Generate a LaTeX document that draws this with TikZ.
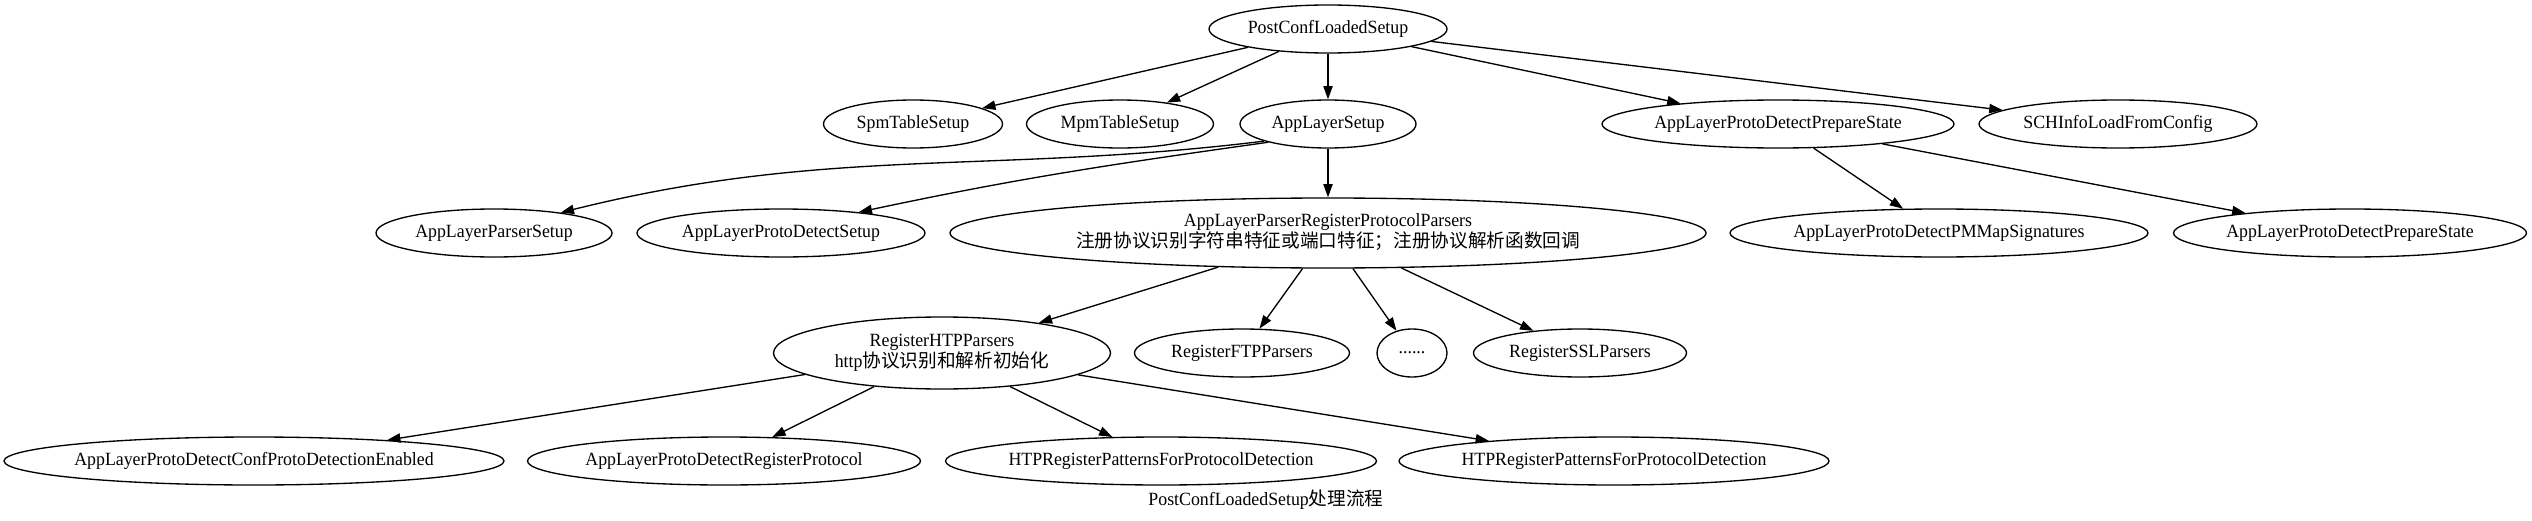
\documentclass[tikz,border=0pt]{standalone}
\usepackage{fontspec}
\setmainfont[FakeStretch=0.955]{Liberation Serif}
\newfontfamily\cjk{Noto Sans CJK SC}
\usetikzlibrary{shapes.geometric,arrows.meta}
\newcommand\gvn[6]{\node[gv,minimum width={#4*0.75pt},minimum height={#5*0.75pt}] (#1) at (#2,#3) {\makebox[0pt]{#6}};}
\newcommand\twol[2]{\begin{tabular}{@{}c@{}}#1\\#2\end{tabular}}
\begin{document}
\begin{tikzpicture}[x=0.75pt,y=-0.75pt,
  gv/.style={draw,ellipse,line width=1pt,inner sep=0pt,font=\fontsize{14}{14.5}\selectfont},
  ed/.style={line width=1pt,-{Triangle[length=10pt,width=7pt]}},
  lbl/.style={inner sep=0pt,font=\fontsize{14}{14.5}\selectfont}]
\useasboundingbox (0,0) rectangle (2532,521);
\gvn{post}{1328}{29}{238}{48}{PostConfLoadedSetup}
\gvn{spm}{913}{124}{179}{48}{SpmTableSetup}
\gvn{mpm}{1120}{124}{187}{48}{MpmTableSetup}
\gvn{als}{1328}{124}{176}{48}{AppLayerSetup}
\gvn{apdps}{1778}{124}{352}{48}{AppLayerProtoDetectPrepareState}
\gvn{sch}{2118}{124}{278}{48}{SCHInfoLoadFromConfig}
\gvn{aps}{494}{233}{236}{48}{AppLayerParserSetup}
\gvn{apds}{781}{233}{288}{48}{AppLayerProtoDetectSetup}
\gvn{big}{1328}{233}{756}{70}{\twol{AppLayerParserRegisterProtocolParsers}{{\cjk 注册协议识别字符串特征或端口特征；注册协议解析函数回调}}}
\gvn{pmm}{1939}{233}{418}{48}{AppLayerProtoDetectPMMapSignatures}
\gvn{apdps2}{2350}{233}{353}{48}{AppLayerProtoDetectPrepareState}
\gvn{htp}{942}{353}{337}{72}{\twol{RegisterHTPParsers}{http{\cjk 协议识别和解析初始化}}}
\gvn{ftp}{1242}{353}{215}{48}{RegisterFTPParsers}
\gvn{dots}{1412}{353}{70}{48}{......}
\gvn{ssl}{1580}{353}{213}{48}{RegisterSSLParsers}
\gvn{conf}{254}{461}{500}{48}{AppLayerProtoDetectConfProtoDetectionEnabled}
\gvn{reg}{724}{461}{393}{48}{AppLayerProtoDetectRegisterProtocol}
\gvn{htpr1}{1161}{461}{431}{48}{HTPRegisterPatternsForProtocolDetection}
\gvn{htpr2}{1614}{461}{430}{48}{HTPRegisterPatternsForProtocolDetection}
\node[lbl] (title) at (1266,500) {PostConfLoadedSetup{\cjk 处理流程}};
\draw[ed] (post) -- (spm);
\draw[ed] (post) -- (mpm);
\draw[ed] (post) -- (als);
\draw[ed] (post) -- (apdps);
\draw[ed] (post) -- (sch);
\draw[ed] (als.195) to[out=187,in=14] (aps.17);
\draw[ed] (als.197) to[out=188,in=12] (apds.15);
\draw[ed] (als) -- (big);
\draw[ed] (apdps) -- (pmm);
\draw[ed] (apdps) -- (apdps2);
\draw[ed] (big) -- (htp);
\draw[ed] (big) -- (ftp);
\draw[ed] (big) -- (dots);
\draw[ed] (big) -- (ssl);
\draw[ed] (htp) -- (conf);
\draw[ed] (htp) -- (reg);
\draw[ed] (htp) -- (htpr1);
\draw[ed] (htp) -- (htpr2);
\end{tikzpicture}
\end{document}
